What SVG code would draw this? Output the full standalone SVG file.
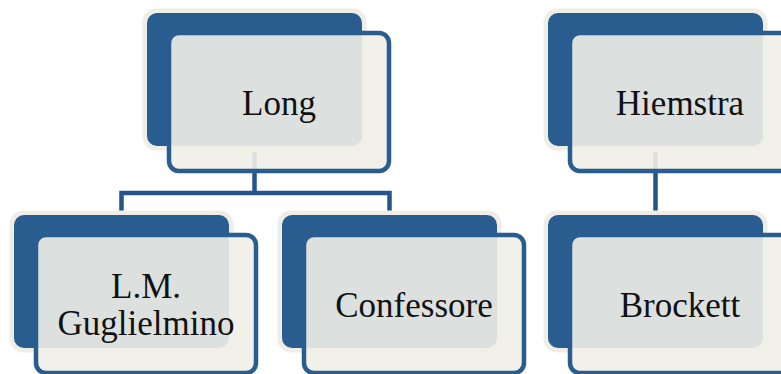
<svg xmlns="http://www.w3.org/2000/svg" width="781" height="374" viewBox="0 0 781 374">
  <style>
    .halo { fill: #efeee6; }
    .back { fill: #2a5d8f; }
    .front { fill: #f0f0e8; fill-opacity: 0.9; stroke: #2a5d8f; stroke-width: 4.5; }
    .conn { fill: none; stroke: #24548a; stroke-width: 4.5; stroke-linejoin: miter; }
    .lbl { font-family: "Liberation Serif", "Times New Roman", serif; font-size: 35px; fill: #111; text-anchor: middle; }
  </style>
  <rect width="781" height="374" fill="#ffffff"/>
  <g id="connectors">
    <path class="conn" d="M254.5,152 V193 M121.5,215 V193 H389.5 V215"/>
    <path class="conn" d="M655.5,152 V215"/>
  </g>
  <g id="node-long" transform="translate(147,13)">
    <rect class="halo" x="-4.5" y="-4.5" width="224" height="142" rx="14"/>
    <rect class="back" x="0" y="0" width="215" height="133" rx="10"/>
    <rect class="front" x="22" y="20" width="220" height="138" rx="10"/>
    <text class="lbl" x="132" y="102">Long</text>
  </g>
  <g id="node-hiemstra" transform="translate(548,13)">
    <rect class="halo" x="-4.5" y="-4.5" width="224" height="142" rx="14"/>
    <rect class="back" x="0" y="0" width="215" height="133" rx="10"/>
    <rect class="front" x="22" y="20" width="220" height="138" rx="10"/>
    <text class="lbl" x="132" y="102">Hiemstra</text>
  </g>
  <g id="node-guglielmino" transform="translate(14,215)">
    <rect class="halo" x="-4.5" y="-4.5" width="224" height="142" rx="14"/>
    <rect class="back" x="0" y="0" width="215" height="133" rx="10"/>
    <rect class="front" x="22" y="20" width="220" height="138" rx="10"/>
    <text class="lbl" x="132" y="83">L.M.</text>
    <text class="lbl" x="132" y="120">Guglielmino</text>
  </g>
  <g id="node-confessore" transform="translate(282,215)">
    <rect class="halo" x="-4.5" y="-4.5" width="224" height="142" rx="14"/>
    <rect class="back" x="0" y="0" width="215" height="133" rx="10"/>
    <rect class="front" x="22" y="20" width="220" height="138" rx="10"/>
    <text class="lbl" x="132" y="102">Confessore</text>
  </g>
  <g id="node-brockett" transform="translate(548,215)">
    <rect class="halo" x="-4.5" y="-4.5" width="224" height="142" rx="14"/>
    <rect class="back" x="0" y="0" width="215" height="133" rx="10"/>
    <rect class="front" x="22" y="20" width="220" height="138" rx="10"/>
    <text class="lbl" x="132" y="102">Brockett</text>
  </g>
</svg>
